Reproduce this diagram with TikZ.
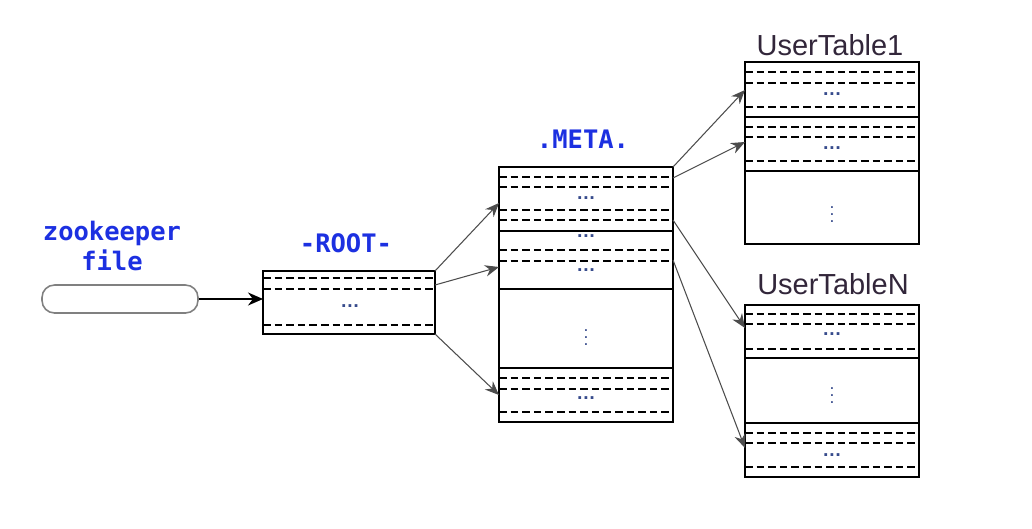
\documentclass[tikz,border=0pt]{standalone}
\usepackage{fontspec}
\setmainfont{Liberation Sans}
\newfontfamily\monofont{DejaVu Sans Mono}
\usetikzlibrary{arrows.meta}
\definecolor{lblblue}{RGB}{28,48,225}
\definecolor{tblname}{RGB}{50,38,58}
\definecolor{dotcol}{RGB}{55,75,140}
\tikzset{
  tbl/.style={draw, line width=1.1pt, inner sep=0pt, outer sep=0pt, minimum width=3.48cm},
  slot/.style={line width=1pt, dash pattern=on 4.3pt off 2.3pt},
  link/.style={draw=black!70, line width=0.6pt, -{Stealth[length=2.8mm,width=2.3mm]}},
  mlabel/.style={text=lblblue, font=\monofont\bfseries\fontsize{14.5}{17.5}\selectfont, align=center},
  tlabel/.style={text=tblname, font=\fontsize{16.5}{20}\selectfont},
  hdots/.style={text=dotcol, font=\bfseries\fontsize{11}{11}\selectfont, inner sep=0pt},
  vdot/.style={text=dotcol, inner sep=0pt},
}
\begin{document}
\begin{tikzpicture}[x=0.02cm, y=-0.02cm]
\useasboundingbox (0,0) rectangle (1032,528);

% zookeeper file
\node[mlabel] (zklbl) at (112,246) {zookeeper\\file};
\node[draw=black!50, line width=0.9pt, rounded corners=2.5mm, minimum width=3.12cm, minimum height=0.56cm, inner sep=0pt] (zk) at (120,299) {};

% -ROOT-
\node[mlabel] (rootlbl) at (346,243) {-ROOT-};
\node[tbl, minimum width=3.44cm, minimum height=1.26cm] (root) at (349,302.5) {};
\foreach \y in {278,289,325} \draw[slot] (263,\y) -- (435,\y);
\node[hdots] (rd) at (350,306) {\ldots};

% .META.
\node[mlabel] (metalbl) at (583,139) {.META.};
\node[tbl, minimum height=5.1cm] (meta) at (586,294.5) {};
\foreach \y in {231,289,368} \draw[line width=1.1pt] (499,\y) -- (673,\y);
\foreach \y in {177,187,210,220,250,261,378,389,412} \draw[slot] (499,\y) -- (673,\y);
\foreach \y in {198,236,270,398} \node[hdots] (md\y) at (586,\y) {\ldots};
\node[vdot] (mv) at (586,332) {$\vdots$};

% UserTable1
\node[tlabel] (u1lbl) at (830,45) {UserTable1};
\node[tbl, minimum height=3.64cm] (ut1) at (832,153) {};
\foreach \y in {117,171} \draw[line width=1.1pt] (745,\y) -- (919,\y);
\foreach \y in {72,83,107,127,137,161} \draw[slot] (745,\y) -- (919,\y);
\foreach \y in {94,148} \node[hdots] (ud\y) at (832,\y) {\ldots};
\node[vdot] (uv) at (832,209) {$\vdots$};

% UserTableN
\node[tlabel] (unlbl) at (833,284) {UserTableN};
\node[tbl, minimum height=3.44cm] (utn) at (832,391) {};
\foreach \y in {358,423} \draw[line width=1.1pt] (745,\y) -- (919,\y);
\foreach \y in {314,324,349,433,443,467} \draw[slot] (745,\y) -- (919,\y);
\foreach \y in {334,455} \node[hdots] (nd\y) at (832,\y) {\ldots};
\node[vdot] (nv) at (832,390) {$\vdots$};

% entry points
\coordinate (r2) at (435,285);
\coordinate (m1) at (499,203);
\coordinate (m2) at (499,267);
\coordinate (m3) at (499,395);
\coordinate (m4) at (673,178);
\coordinate (m5) at (673,220);
\coordinate (m6) at (673,260);
\coordinate (u1) at (745,90);
\coordinate (u2) at (745,142);
\coordinate (n1) at (745,328);
\coordinate (n2) at (745,448);

% links
\draw[line width=1pt, -{Stealth[length=3mm,width=2.6mm]}] (zk.east) -- (zk.east -| root.west);
\draw[link] (root.north east) -- (m1);
\draw[link] (r2) -- (m2);
\draw[link] (root.south east) -- (m3);
\draw[link] (meta.north east) -- (u1);
\draw[link] (m4) -- (u2);
\draw[link] (m5) -- (n1);
\draw[link] (m6) -- (n2);
\end{tikzpicture}
\end{document}
